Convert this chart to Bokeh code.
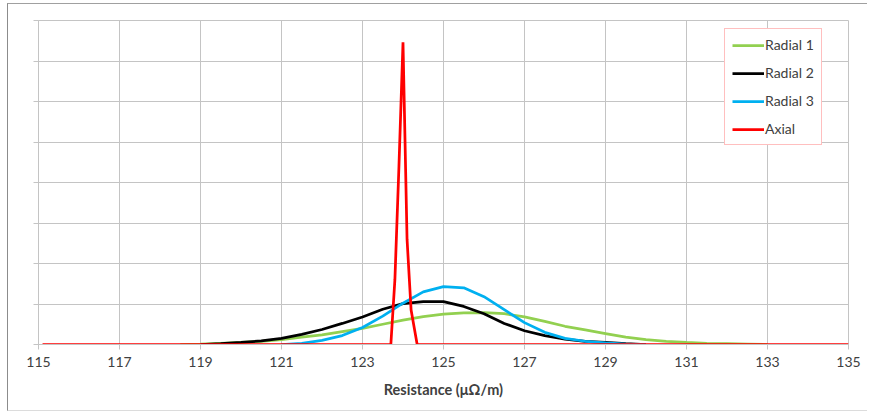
from bokeh.plotting import figure
from bokeh.models import Range1d, FixedTicker, Legend, LegendItem
from bokeh.embed import file_html
from bokeh.resources import INLINE

# ---- data ----
x_ticks = [115, 117, 119, 121, 123, 125, 127, 129, 131, 133, 135]
y_ticks = [0, 1, 2, 3, 4, 5, 6, 7, 8]

radial1_x = [118.5, 119.0, 119.5, 120.0, 120.5, 121.0, 121.5, 122.0, 122.5, 123.0,
             123.5, 124.0, 124.5, 125.0, 125.5, 126.0, 126.5, 127.0, 127.5, 128.0,
             128.5, 129.0, 129.5, 130.0, 130.5, 131.0, 131.5, 132.0, 132.5, 133.0]
radial1_y = [0.0, 0.01, 0.03, 0.05, 0.08, 0.12, 0.18, 0.24, 0.32, 0.40,
             0.50, 0.60, 0.69, 0.75, 0.78, 0.79, 0.76, 0.68, 0.57, 0.45,
             0.36, 0.27, 0.18, 0.12, 0.08, 0.05, 0.03, 0.02, 0.01, 0.0]

radial2_x = [119.0, 119.5, 120.0, 120.5, 121.0, 121.5, 122.0, 122.5, 123.0, 123.5,
             124.0, 124.5, 125.0, 125.5, 126.0, 126.5, 127.0, 127.5, 128.0, 128.5,
             129.0, 129.5, 130.0]
radial2_y = [0.0, 0.02, 0.05, 0.09, 0.15, 0.25, 0.37, 0.52, 0.68, 0.87,
             1.01, 1.06, 1.06, 0.94, 0.76, 0.52, 0.34, 0.22, 0.13, 0.08,
             0.05, 0.02, 0.0]

radial3_x = [121.0, 121.5, 122.0, 122.5, 123.0, 123.5, 124.0, 124.5, 125.0, 125.5,
             126.0, 126.5, 127.0, 127.5, 128.0, 128.5, 129.0, 129.5, 130.0]
radial3_y = [0.0, 0.03, 0.10, 0.22, 0.42, 0.70, 1.02, 1.30, 1.43, 1.40,
             1.18, 0.86, 0.54, 0.30, 0.15, 0.08, 0.04, 0.01, 0.0]

axial_x = [115.1, 123.7, 123.8, 123.9, 124.0, 124.1, 124.2, 124.35, 135.0]
axial_y = [0.0, 0.0, 1.6, 4.4, 7.46, 2.6, 0.85, 0.0, 0.0]

series_names = ["Radial 1", "Radial 2", "Radial 3", "Axial"]

FONT = "Lato"
TXT = "#404040"
GRID = "#c4c4c4"

p = figure(width=860, height=408, output_backend="svg", toolbar_location=None,
           x_range=Range1d(115, 135), y_range=Range1d(0, 8),
           min_border_left=30, min_border_right=20, min_border_top=16,
           min_border_bottom=68)
p.styles = {"margin-left": "7px", "margin-top": "3px",
            "border-left": "1px solid #8c8c8c", "border-top": "1px solid #a0a0a0",
            "border-bottom": "1px solid #dcdcdc"}

p.outline_line_color = GRID
p.background_fill_color = "white"
p.border_fill_color = "white"

p.xaxis.ticker = FixedTicker(ticks=x_ticks)
p.yaxis.ticker = FixedTicker(ticks=y_ticks)
p.xgrid.ticker = FixedTicker(ticks=x_ticks)
p.ygrid.ticker = FixedTicker(ticks=y_ticks)
p.grid.grid_line_color = GRID
p.grid.grid_line_width = 1

p.xaxis.major_label_overrides = {t: str(t) for t in x_ticks}
p.yaxis.major_label_overrides = {t: "" for t in y_ticks}

for ax in (p.xaxis, p.yaxis):
    ax.axis_line_color = GRID
    ax.major_tick_line_color = GRID
    ax.major_tick_in = 0
    ax.major_tick_out = 5
    ax.minor_tick_line_color = None
    ax.major_label_text_font = FONT
    ax.major_label_text_font_size = "14px"
    ax.major_label_text_color = TXT

p.xaxis.major_label_standoff = 7
p.xaxis.axis_label = "Resistance (μΩ/m)"
p.xaxis.axis_label_text_font = FONT
p.xaxis.axis_label_text_font_size = "14.5px"
p.xaxis.axis_label_text_font_style = "bold"
p.xaxis.axis_label_text_color = TXT
p.xaxis.axis_label_standoff = 11

r1 = p.line(radial1_x, radial1_y, line_color="#92D050", line_width=2.75)
r2 = p.line(radial2_x, radial2_y, line_color="#000000", line_width=2.75)
r3 = p.line(radial3_x, radial3_y, line_color="#00B0F0", line_width=2.75)
r4 = p.line(axial_x, axial_y, line_color="#FF0000", line_width=2.75)

legend = Legend(items=[LegendItem(label=n, renderers=[r]) for n, r in
                       zip(series_names, [r1, r2, r3, r4])],
                location=(686, 199))
legend.border_line_color = "#ff8080"
legend.border_line_width = 1
legend.background_fill_color = "white"
legend.background_fill_alpha = 1
legend.label_text_font = FONT
legend.label_text_font_size = "14px"
legend.label_text_color = TXT
legend.glyph_width = 32
legend.glyph_height = 16
legend.label_height = 16
legend.label_standoff = 1
legend.spacing = 11
legend.padding = 7
legend.margin = 0
p.add_layout(legend, "center")

open("out.html", "w").write(file_html(p, INLINE))
